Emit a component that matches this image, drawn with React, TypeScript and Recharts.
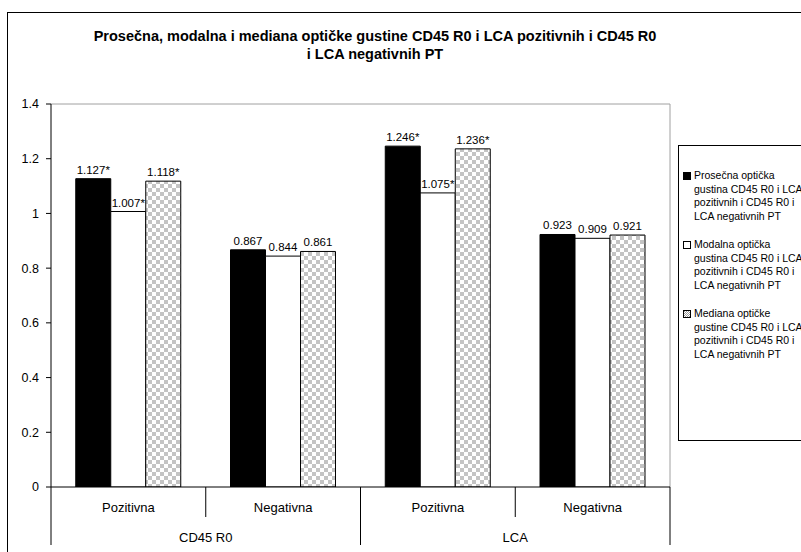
import React from 'react';
import { BarChart, Bar, XAxis, YAxis, CartesianGrid, LabelList, Legend } from 'recharts';

const titleLines = [
  'Prosečna, modalna i mediana optičke gustine CD45 R0 i LCA pozitivnih i CD45 R0',
  'i LCA negativnih PT',
];
const subCategories = ['Pozitivna', 'Negativna', 'Pozitivna', 'Negativna'];
const groups = ['CD45 R0', 'CD45 R0', 'LCA', 'LCA'];
const meanValues = [1.127, 0.867, 1.246, 0.923];
const modeValues = [1.007, 0.844, 1.075, 0.909];
const medianValues = [1.118, 0.861, 1.236, 0.921];
const meanLabels = ['1.127*', '0.867', '1.246*', '0.923'];
const modeLabels = ['1.007*', '0.844', '1.075*', '0.909'];
const medianLabels = ['1.118*', '0.861', '1.236*', '0.921'];
const yTicks = [0, 0.2, 0.4, 0.6, 0.8, 1, 1.2, 1.4];
const seriesNames = [
  'Prosečna optička gustina CD45 R0 i LCA pozitivnih i CD45 R0 i LCA negativnih PT',
  'Modalna optička gustina CD45 R0 i LCA pozitivnih i CD45 R0 i LCA negativnih PT',
  'Mediana optičke gustine CD45 R0 i LCA pozitivnih i CD45 R0 i LCA negativnih PT',
];
const legendLines = [
  ['Prosečna optička', 'gustina CD45 R0 i LCA', 'pozitivnih i CD45 R0 i', 'LCA negativnih PT'],
  ['Modalna optička', 'gustina CD45 R0 i LCA', 'pozitivnih i CD45 R0 i', 'LCA negativnih PT'],
  ['Mediana optičke', 'gustine CD45 R0 i LCA', 'pozitivnih i CD45 R0 i', 'LCA negativnih PT'],
];

const data = subCategories.map((sub, i) => ({
  sub,
  group: groups[i],
  mean: meanValues[i],
  mode: modeValues[i],
  median: medianValues[i],
  meanLabel: meanLabels[i],
  modeLabel: modeLabels[i],
  medianLabel: medianLabels[i],
}));

const FONT = '"Liberation Sans", Arial, sans-serif';
const W = 801;
const H = 552;
const MARGIN = { top: 104, right: 131, bottom: 5, left: 0 };
const Y_W = 51;
const PLOT_W = W - MARGIN.left - MARGIN.right - Y_W;
const BAND_HALF = PLOT_W / subCategories.length / 2;

const XTick = (props: any) => {
  const { x, y, payload, index } = props;
  const half = payload && typeof payload.offset === 'number' && payload.offset > 0 ? payload.offset : BAND_HALF;
  const left = x - half;
  const right = x + half;
  const isGroupStart = index === 0 || groups[index] !== groups[index - 1];
  const isGroupEnd = index === groups.length - 1 || groups[index] !== groups[index + 1];
  let count = 1;
  let j = index - 1;
  while (j >= 0 && groups[j] === groups[index]) {
    count++;
    j--;
  }
  const groupLeft = right - count * 2 * half;
  const groupCenter = (groupLeft + right) / 2;
  return (
    <g>
      <line x1={left} x2={left} y1={y} y2={y + (isGroupStart ? 58 : 30)} stroke="#000" strokeWidth={1} />
      {index === subCategories.length - 1 && (
        <line x1={right} x2={right} y1={y} y2={y + 58} stroke="#000" strokeWidth={1} />
      )}
      <text x={x} y={y + 20} textAnchor="middle" dominantBaseline="central" fontSize={13} fill="#000" fontFamily={FONT}>
        {payload.value}
      </text>
      {isGroupEnd && (
        <text x={groupCenter} y={y + 50} textAnchor="middle" dominantBaseline="central" fontSize={13} fill="#000" fontFamily={FONT}>
          {groups[index]}
        </text>
      )}
    </g>
  );
};

const markerFills = ['#000', '#fff', 'checker'];

const LegendContent = (props: any) => {
  const payload = props.payload || [];
  return (
    <div
      style={{
        width: '100%',
        height: '100%',
        boxSizing: 'border-box',
        border: '1px solid #000',
        background: '#fff',
        fontFamily: FONT,
        fontSize: 10.5,
        lineHeight: '13.7px',
        color: '#000',
        position: 'relative',
      }}
    >
      {payload.map((entry: any, i: number) => (
        <div key={i} style={{ position: 'absolute', left: 4, top: 23 + i * 69, whiteSpace: 'nowrap' }}>
          <svg width={8} height={8} style={{ position: 'absolute', left: 0, top: 3 }}>
            <rect
              x={0.5}
              y={0.5}
              width={7}
              height={7}
              fill={markerFills[i] === 'checker' ? 'url(#legendChecker)' : markerFills[i]}
              stroke="#000"
            />
          </svg>
          <div style={{ marginLeft: 11 }}>
            {legendLines[i].map((line, k) => (
              <div key={k}>{line}</div>
            ))}
          </div>
        </div>
      ))}
    </div>
  );
};

export default function App() {
  return (
    <div
      style={{
        position: 'absolute',
        left: 0,
        top: 0,
        width: W,
        height: H,
        overflow: 'hidden',
        background: '#fff',
        fontFamily: FONT,
      }}
    >
      <div
        style={{
          position: 'absolute',
          left: 7,
          top: 12,
          width: 900,
          height: 700,
          borderLeft: '1px solid #000',
          borderTop: '1px solid #000',
        }}
      />
      <svg width={0} height={0} style={{ position: 'absolute' }}>
        <defs>
          <pattern id="legendChecker" width="2" height="2" patternUnits="userSpaceOnUse">
            <rect width="2" height="2" fill="#fff" />
            <rect width="1" height="1" fill="#999" />
            <rect x="1" y="1" width="1" height="1" fill="#999" />
          </pattern>
        </defs>
      </svg>
      <div
        style={{
          position: 'absolute',
          left: 0,
          top: 27,
          width: 750,
          textAlign: 'center',
          fontWeight: 'bold',
          fontSize: 14.5,
          lineHeight: '18px',
          color: '#000',
        }}
      >
        {titleLines.map((t, i) => (
          <div key={i}>{t}</div>
        ))}
      </div>
      <div style={{ position: 'absolute', left: 0, top: 0 }}>
        <BarChart width={W} height={H} data={data} margin={MARGIN} barCategoryGap="16%" barGap={0}>
          <defs>
            <pattern id="checker" width="8" height="8" patternUnits="userSpaceOnUse">
              <rect width="8" height="8" fill="#fff" />
              <rect width="4" height="4" fill="#c4c4c4" />
              <rect x="4" y="4" width="4" height="4" fill="#c4c4c4" />
            </pattern>
          </defs>
          <CartesianGrid
            stroke="#a0a0a0"
            horizontalCoordinatesGenerator={({ offset }: any) => [offset.top]}
            verticalCoordinatesGenerator={({ offset }: any) => [offset.left + offset.width]}
          />
          <XAxis
            dataKey="sub"
            interval={0}
            height={60}
            tickSize={0}
            tickMargin={0}
            tickLine={false}
            axisLine={{ stroke: '#000' }}
            tick={<XTick />}
          />
          <YAxis
            domain={[0, 1.4]}
            ticks={yTicks}
            width={Y_W}
            tickSize={5}
            tickMargin={7}
            axisLine={{ stroke: '#000' }}
            tickLine={{ stroke: '#000' }}
            tick={{ fill: '#000', fontSize: 12.5, fontFamily: FONT }}
            tickFormatter={(v: number) => String(v)}
            allowDataOverflow
          />
          <Legend
            layout="vertical"
            align="center"
            verticalAlign="middle"
            content={<LegendContent />}
            wrapperStyle={{ position: 'absolute', left: 678, top: 145, width: 150, height: 296 }}
          />
          <Bar dataKey="mean" name={seriesNames[0]} fill="#000" stroke="#000" isAnimationActive={false}>
            <LabelList dataKey="meanLabel" position="top" fontSize={11.5} fill="#000" fontFamily={FONT} />
          </Bar>
          <Bar dataKey="mode" name={seriesNames[1]} fill="#fff" stroke="#000" isAnimationActive={false}>
            <LabelList dataKey="modeLabel" position="top" fontSize={11.5} fill="#000" fontFamily={FONT} />
          </Bar>
          <Bar dataKey="median" name={seriesNames[2]} fill="url(#checker)" stroke="#000" isAnimationActive={false}>
            <LabelList dataKey="medianLabel" position="top" fontSize={11.5} fill="#000" fontFamily={FONT} />
          </Bar>
        </BarChart>
      </div>
    </div>
  );
}
